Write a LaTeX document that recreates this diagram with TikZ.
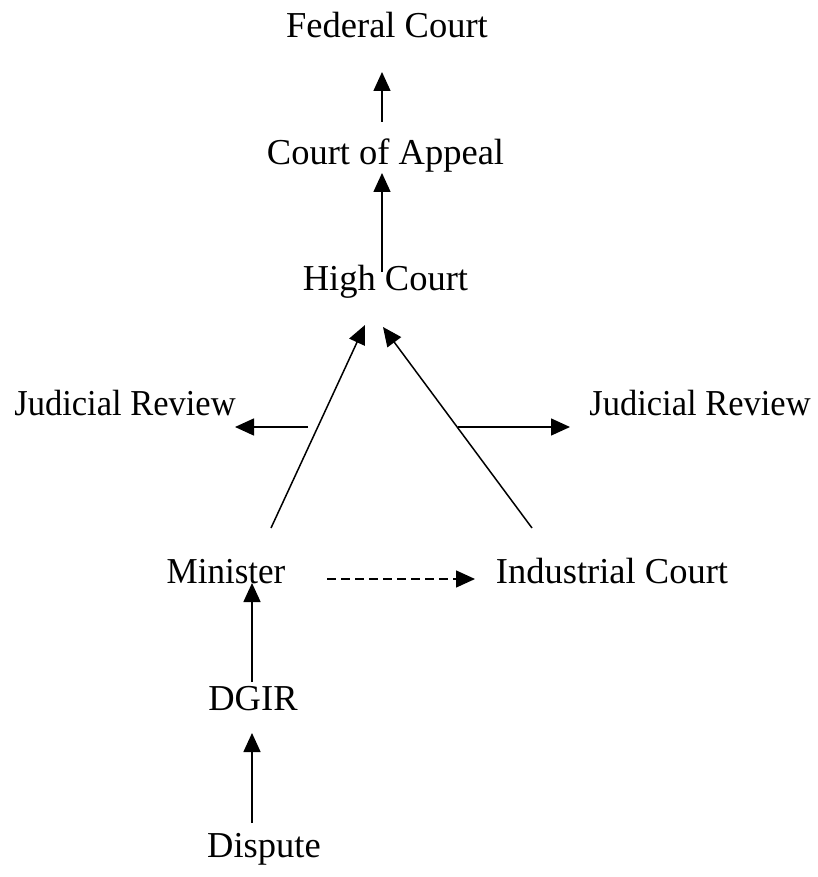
\documentclass[tikz,border=0pt]{standalone}
\usepackage{fontspec}
\usepackage{graphicx}
\setmainfont{Liberation Serif}
\usetikzlibrary{arrows.meta}
\begin{document}
\begin{tikzpicture}[x=1pt,y=-1pt,
  lbl/.style={anchor=base,inner sep=0pt,font=\fontsize{36.5}{40}\selectfont},
  conn/.style={line width=1.5pt,-{Triangle[length=19pt,width=17pt]}},
  dconn/.style={conn,dash pattern=on 9pt off 5pt}]
\useasboundingbox (0,0) rectangle (818,877);
% nodes
\node[lbl] (fc)  at (387,38)  {Federal Court};
\node[lbl] (ca)  at (385.5,165) {Court of Appeal};
\node[lbl] (hc)  at (385.5,290) {High Court};
\node[lbl] (jrl) at (125,415) {\scalebox{0.945}[1]{Judicial Review}};
\node[lbl] (jrr) at (700,415) {\scalebox{0.945}[1]{Judicial Review}};
\node[lbl] (min) at (226,583) {\scalebox{0.96}[1]{Minister}};
\node[lbl] (ic)  at (612,583) {Industrial Court};
\node[lbl] (dg)  at (253,710) {DGIR};
\node[lbl] (dp)  at (264,857) {Dispute};
% connector end points
\coordinate (caT) at (382,122); \coordinate (fcB) at (382,72);
\coordinate (hcT) at (382,272); \coordinate (caB) at (382,173);
\coordinate (minT) at (271,528); \coordinate (hcL) at (365,325);
\coordinate (icT) at (532,528); \coordinate (hcR) at (383,327);
\coordinate (jlS) at (308,427); \coordinate (jrlE) at (235,427);
\coordinate (jrS) at (458,427); \coordinate (jrrE) at (570,427);
\coordinate (minR) at (327,579); \coordinate (icL) at (475,579);
\coordinate (dgT) at (252,682); \coordinate (minB) at (252,583);
\coordinate (dpT) at (252,823); \coordinate (dgB) at (252,733);
% connectors
\draw[conn] (caT) -- (fcB);
\draw[conn] (hcT) -- (caB);
\draw[conn] (minT) -- (hcL);
\draw[conn] (icT) -- (hcR);
\draw[conn] (jlS) -- (jrlE);
\draw[conn] (jrS) -- (jrrE);
\draw[dconn] (minR) -- (icL);
\draw[conn] (dgT) -- (minB);
\draw[conn] (dpT) -- (dgB);
\end{tikzpicture}
\end{document}
